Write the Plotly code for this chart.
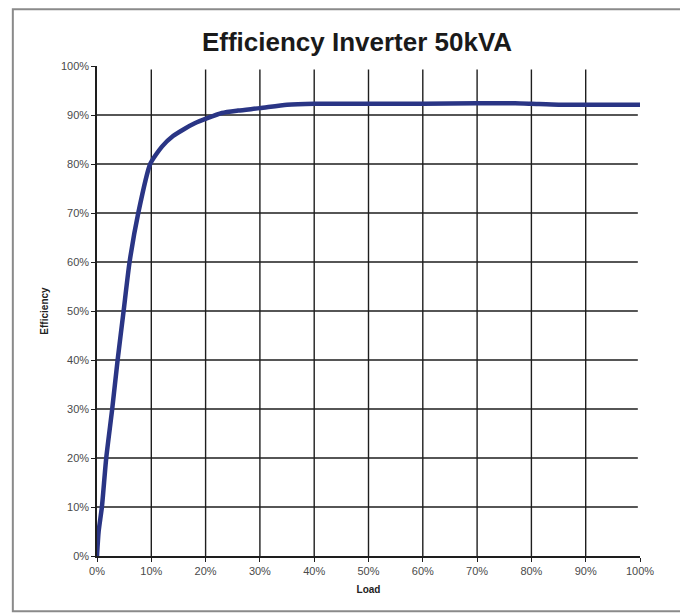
import plotly.graph_objects as go

# Data
load_pct = [0, 0.3, 0.9, 1.7, 2.8, 3.8, 4.9, 6.0, 7.6, 9.8, 12, 14, 16, 18, 20.2, 23, 26, 30, 35, 40, 50, 60, 70, 77, 80, 85, 90, 100]
efficiency_pct = [0, 5, 10, 20, 30, 40, 50, 60, 70, 80, 83.6, 85.7, 87.1, 88.3, 89.3, 90.4, 90.9, 91.4, 92.1, 92.3, 92.3, 92.3, 92.4, 92.4, 92.3, 92.1, 92.1, 92.1]

x_ticks = [0, 10, 20, 30, 40, 50, 60, 70, 80, 90, 100]
y_ticks = [0, 10, 20, 30, 40, 50, 60, 70, 80, 90, 100]
x_tick_labels = [f"{v}%" for v in x_ticks]
y_tick_labels = [f"{v}%" for v in y_ticks]

title_text = "Efficiency Inverter 50kVA"
x_title = "Load"
y_title = "Efficiency"

line_color = "#2a3585"
grid_color = "#1e1e1e"
tick_font = dict(family="Liberation Sans, Arial, sans-serif", size=11, color="#4a4a4a")

fig = go.Figure()
fig.add_trace(go.Scatter(
    x=load_pct, y=efficiency_pct, mode="lines",
    line=dict(color=line_color, width=4.5, shape="spline", smoothing=0.6),
    hoverinfo="skip", showlegend=False,
))

shapes = []
# vertical grid lines (not at 0 or 100)
for v in x_ticks[1:-1]:
    shapes.append(dict(type="line", xref="x", yref="y", x0=v, x1=v, y0=0, y1=99.3,
                       line=dict(color=grid_color, width=1.4), layer="below"))
# horizontal grid lines (not at 0 or 100)
for v in y_ticks[1:-1]:
    shapes.append(dict(type="line", xref="x", yref="y", x0=0, x1=99.6, y0=v, y1=v,
                       line=dict(color=grid_color, width=1.4), layer="below"))
# outer page frame
shapes.append(dict(type="rect", xref="paper", yref="paper",
                   x0=-0.155, x1=1.077, y0=-0.113, y1=1.116,
                   line=dict(color="#8a8a8a", width=2), layer="below"))

W, H = 680, 606
fig.update_layout(
    template="none",
    width=W, height=H,
    margin=dict(l=89, r=48, t=58, b=58),
    paper_bgcolor="white", plot_bgcolor="white",
    title=dict(text=f"<b>{title_text}</b>", x=349 / W, xanchor="center",
               y=1 - 34 / H, yanchor="middle",
               font=dict(family="Liberation Sans, Arial, sans-serif", size=26, color="#1a1a1a")),
    shapes=shapes,
    xaxis=dict(range=[0, 100], tickvals=x_ticks, ticktext=x_tick_labels,
               showgrid=False, zeroline=False, showline=True, linecolor=grid_color, linewidth=1.5,
               ticks="outside", ticklen=4, tickcolor=grid_color, tickfont=tick_font,
               title=dict(text=f"<b>{x_title}</b>", standoff=10,
                          font=dict(family="Liberation Sans, Arial, sans-serif", size=10, color="#222"))),
    yaxis=dict(range=[0, 100], tickvals=y_ticks, ticktext=y_tick_labels,
               showgrid=False, zeroline=False, showline=True, linecolor=grid_color, linewidth=1.5,
               ticks="outside", ticklen=4, tickcolor=grid_color, tickfont=tick_font,
               title=dict(text=f"<b>{y_title}</b>", standoff=10,
                          font=dict(family="Liberation Sans, Arial, sans-serif", size=10, color="#222"))),
)

fig.write_html("out.html")
